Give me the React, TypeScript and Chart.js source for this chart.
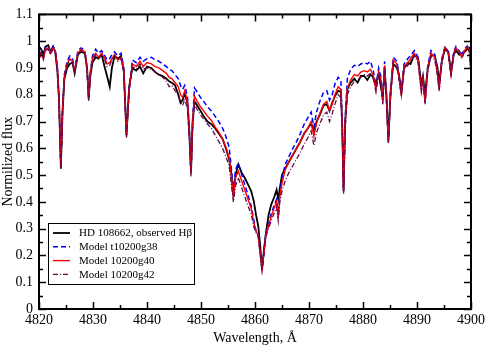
import React, { useEffect, useRef } from "react";
import { Chart, registerables } from "chart.js";

Chart.register(...registerables);

// Wavelength grid (Å)
const WAVE = [
  4820.0, 4820.4, 4820.8, 4821.2, 4821.7, 4822.1, 4822.6, 4823.0, 4823.4, 4823.7,
  4824.05, 4824.35, 4824.7, 4825.2, 4825.7, 4826.2, 4826.6, 4827.2, 4827.8, 4828.5,
  4828.9, 4829.2, 4829.5, 4829.9, 4830.5, 4831.0, 4831.6, 4832.2, 4832.6, 4833.1,
  4833.5, 4834.0, 4834.6, 4835.2, 4835.7, 4836.2, 4836.7, 4837.3, 4838.0, 4838.7,
  4839.3, 4840.0, 4840.8, 4841.5, 4842.2, 4842.9, 4843.6, 4844.1, 4844.6, 4845.2,
  4845.8, 4846.2, 4846.6, 4847.0, 4847.5, 4847.85, 4848.15, 4848.45, 4848.8, 4849.3,
  4849.9, 4850.5, 4851.2, 4851.9, 4852.6, 4853.3, 4854.0, 4854.6, 4855.2, 4855.6,
  4856.0, 4856.4, 4856.9, 4857.5, 4858.1, 4858.7, 4859.3, 4859.8, 4860.2, 4860.6,
  4860.95, 4861.3, 4861.65, 4862.0, 4862.5, 4863.0, 4863.6, 4864.0, 4864.3, 4864.6,
  4865.0, 4865.6, 4866.3, 4867.0, 4867.7, 4868.4, 4869.1, 4869.8, 4870.4, 4870.9,
  4871.4, 4872.0, 4872.7, 4873.3, 4873.8, 4874.3, 4874.8, 4875.4, 4875.9, 4876.15,
  4876.4, 4876.7, 4877.1, 4877.7, 4878.4, 4879.0, 4879.6, 4880.2, 4880.8, 4881.4,
  4881.9, 4882.4, 4882.9, 4883.3, 4883.65, 4884.0, 4884.35, 4884.7, 4885.1, 4885.6,
  4886.3, 4886.7, 4887.1, 4887.6, 4888.3, 4888.8, 4889.5, 4890.2, 4890.8, 4891.1,
  4891.5, 4892.0, 4892.6, 4893.3, 4893.8, 4894.1, 4894.6, 4895.2, 4895.8, 4896.3,
  4896.8, 4897.2, 4897.8, 4898.3, 4898.8, 4899.3, 4899.7, 4900.0,
];

// HD 108662, observed Hβ
const OBSERVED = [
  0.98, 0.97, 0.95, 0.98, 0.985, 0.96, 0.98, 0.96, 0.89, 0.79,
  0.525, 0.73, 0.86, 0.90, 0.915, 0.92, 0.88, 0.95, 0.96, 0.955,
  0.90, 0.79, 0.87, 0.92, 0.94, 0.935, 0.95, 0.90, 0.87, 0.83,
  0.90, 0.945, 0.935, 0.945, 0.89, 0.65, 0.83, 0.90, 0.89, 0.905,
  0.88, 0.905, 0.90, 0.885, 0.875, 0.87, 0.86, 0.85, 0.845, 0.835,
  0.80, 0.77, 0.78, 0.805, 0.77, 0.66, 0.51, 0.70, 0.775, 0.76,
  0.74, 0.72, 0.70, 0.69, 0.675, 0.655, 0.635, 0.60, 0.56, 0.51,
  0.42, 0.50, 0.54, 0.51, 0.49, 0.465, 0.44, 0.40, 0.35, 0.31,
  0.24, 0.145, 0.22, 0.28, 0.35, 0.39, 0.42, 0.445, 0.41, 0.45,
  0.50, 0.525, 0.55, 0.575, 0.60, 0.625, 0.655, 0.675, 0.695, 0.66,
  0.70, 0.725, 0.76, 0.765, 0.74, 0.77, 0.795, 0.815, 0.81, 0.69,
  0.44, 0.70, 0.82, 0.845, 0.86, 0.845, 0.87, 0.87, 0.855, 0.875,
  0.865, 0.84, 0.88, 0.83, 0.79, 0.89, 0.80, 0.63, 0.81, 0.915,
  0.90, 0.87, 0.81, 0.90, 0.92, 0.915, 0.95, 0.935, 0.84, 0.87,
  0.80, 0.90, 0.95, 0.945, 0.90, 0.84, 0.925, 0.975, 0.96, 0.885,
  0.95, 0.965, 0.95, 0.955, 0.96, 0.97, 0.975, 0.96,
];

// Model t10200g38
const MODEL_G38 = [
  0.945, 0.96, 0.94, 0.975, 0.98, 0.96, 0.98, 0.97, 0.905, 0.78,
  0.53, 0.75, 0.875, 0.925, 0.945, 0.935, 0.895, 0.965, 0.975, 0.965,
  0.90, 0.785, 0.885, 0.945, 0.97, 0.955, 0.965, 0.945, 0.93, 0.935,
  0.95, 0.96, 0.945, 0.955, 0.90, 0.65, 0.83, 0.93, 0.92, 0.94,
  0.925, 0.935, 0.94, 0.93, 0.925, 0.915, 0.905, 0.895, 0.89, 0.875,
  0.86, 0.835, 0.82, 0.835, 0.79, 0.66, 0.51, 0.71, 0.825, 0.81,
  0.79, 0.775, 0.755, 0.74, 0.72, 0.70, 0.675, 0.645, 0.605, 0.53,
  0.44, 0.52, 0.545, 0.505, 0.465, 0.425, 0.385, 0.33, 0.29, 0.28,
  0.21, 0.148, 0.21, 0.28, 0.32, 0.355, 0.39, 0.41, 0.35, 0.43,
  0.49, 0.54, 0.57, 0.60, 0.625, 0.655, 0.69, 0.715, 0.735, 0.68,
  0.735, 0.775, 0.81, 0.815, 0.78, 0.80, 0.84, 0.865, 0.855, 0.70,
  0.445, 0.71, 0.86, 0.895, 0.91, 0.905, 0.915, 0.92, 0.915, 0.925,
  0.89, 0.83, 0.90, 0.87, 0.78, 0.925, 0.78, 0.625, 0.81, 0.94,
  0.925, 0.87, 0.805, 0.915, 0.935, 0.945, 0.965, 0.94, 0.825, 0.87,
  0.775, 0.91, 0.965, 0.95, 0.885, 0.825, 0.935, 0.98, 0.96, 0.88,
  0.96, 0.98, 0.965, 0.945, 0.97, 0.982, 0.97, 0.885,
];

// Model 10200g40
const MODEL_G40 = [
  0.94, 0.955, 0.935, 0.97, 0.975, 0.955, 0.975, 0.965, 0.90, 0.78,
  0.53, 0.74, 0.87, 0.915, 0.935, 0.925, 0.89, 0.955, 0.97, 0.96,
  0.90, 0.78, 0.88, 0.935, 0.955, 0.94, 0.955, 0.935, 0.915, 0.92,
  0.935, 0.95, 0.93, 0.94, 0.89, 0.645, 0.82, 0.915, 0.905, 0.925,
  0.905, 0.92, 0.915, 0.905, 0.90, 0.89, 0.88, 0.865, 0.86, 0.845,
  0.83, 0.80, 0.79, 0.815, 0.77, 0.65, 0.505, 0.70, 0.795, 0.775,
  0.755, 0.74, 0.72, 0.705, 0.68, 0.66, 0.635, 0.605, 0.565, 0.50,
  0.42, 0.49, 0.515, 0.48, 0.445, 0.41, 0.375, 0.32, 0.29, 0.275,
  0.21, 0.148, 0.21, 0.275, 0.31, 0.345, 0.38, 0.40, 0.34, 0.42,
  0.47, 0.52, 0.55, 0.575, 0.60, 0.625, 0.655, 0.675, 0.70, 0.645,
  0.695, 0.73, 0.765, 0.775, 0.74, 0.765, 0.80, 0.83, 0.82, 0.68,
  0.44, 0.69, 0.825, 0.855, 0.875, 0.87, 0.885, 0.89, 0.885, 0.895,
  0.87, 0.82, 0.885, 0.86, 0.775, 0.91, 0.78, 0.625, 0.80, 0.93,
  0.915, 0.86, 0.80, 0.905, 0.92, 0.935, 0.955, 0.93, 0.82, 0.86,
  0.77, 0.90, 0.955, 0.94, 0.88, 0.82, 0.93, 0.975, 0.955, 0.875,
  0.955, 0.975, 0.96, 0.94, 0.965, 0.978, 0.965, 0.88,
];

// Model 10200g42
const MODEL_G42 = [
  0.935, 0.95, 0.93, 0.965, 0.97, 0.95, 0.97, 0.96, 0.895, 0.77,
  0.52, 0.73, 0.865, 0.91, 0.93, 0.92, 0.885, 0.95, 0.965, 0.955,
  0.89, 0.775, 0.875, 0.93, 0.95, 0.935, 0.95, 0.93, 0.905, 0.91,
  0.93, 0.945, 0.925, 0.935, 0.885, 0.64, 0.815, 0.905, 0.895, 0.915,
  0.895, 0.90, 0.895, 0.885, 0.875, 0.865, 0.85, 0.83, 0.835, 0.815,
  0.80, 0.77, 0.76, 0.785, 0.745, 0.63, 0.495, 0.68, 0.765, 0.745,
  0.725, 0.71, 0.69, 0.675, 0.65, 0.625, 0.60, 0.57, 0.535, 0.47,
  0.40, 0.46, 0.49, 0.455, 0.42, 0.385, 0.355, 0.305, 0.285, 0.27,
  0.205, 0.145, 0.205, 0.27, 0.30, 0.33, 0.36, 0.38, 0.33, 0.40,
  0.44, 0.48, 0.51, 0.535, 0.56, 0.585, 0.615, 0.64, 0.665, 0.61,
  0.66, 0.69, 0.725, 0.735, 0.70, 0.73, 0.765, 0.80, 0.79, 0.66,
  0.43, 0.67, 0.80, 0.83, 0.85, 0.855, 0.865, 0.875, 0.87, 0.88,
  0.86, 0.81, 0.875, 0.85, 0.765, 0.90, 0.77, 0.62, 0.79, 0.92,
  0.91, 0.85, 0.795, 0.895, 0.91, 0.925, 0.945, 0.92, 0.81, 0.85,
  0.765, 0.89, 0.945, 0.93, 0.87, 0.815, 0.92, 0.97, 0.95, 0.87,
  0.95, 0.97, 0.955, 0.935, 0.96, 0.975, 0.96, 0.875,
];

const SERIES_LABELS = [
  "HD 108662, observed H\u03b2",
  "Model t10200g38",
  "Model 10200g40",
  "Model 10200g42",
];
const X_TICKS = [4820, 4830, 4840, 4850, 4860, 4870, 4880, 4890, 4900];
const Y_TICK_LABELS = ["0", "0.1", "0.2", "0.3", "0.4", "0.5", "0.6", "0.7", "0.8", "0.9", "1", "1.1"];

const FONT = "'Liberation Serif', 'Times New Roman', serif";
const COLORS = ["#000000", "#0000ff", "#ff0000", "#670748"];
const DASHES = [[], [5, 3], [], [5, 2, 1, 2]];
const WIDTHS = [1.8, 1.5, 1.4, 1.3];

const framePlugin = {
  id: "frameTicks",
  afterDatasetsDraw(chart: any) {
    const ctx = chart.ctx;
    const { left, right, top, bottom } = chart.chartArea;
    const xs = chart.scales.x;
    const ys = chart.scales.y;
    ctx.save();
    ctx.strokeStyle = "#000";
    ctx.lineWidth = 1.5;
    ctx.setLineDash([]);
    ctx.beginPath();
    // x ticks (major 10, minor 5)
    for (let v = 4820; v <= 4900; v += 5) {
      const px = Math.round(xs.getPixelForValue(v)) + 0.5;
      const len = v % 10 === 0 ? 7 : 4;
      ctx.moveTo(px, bottom);
      ctx.lineTo(px, bottom - len);
      ctx.moveTo(px, top);
      ctx.lineTo(px, top + len);
    }
    for (let i = 0; i <= 22; i++) {
      const v = i * 0.05;
      const py = Math.round(ys.getPixelForValue(v)) + 0.5;
      const len = i % 2 === 0 ? 7 : 4;
      ctx.moveTo(left, py);
      ctx.lineTo(left + len, py);
      ctx.moveTo(right, py);
      ctx.lineTo(right - len, py);
    }
    ctx.stroke();
    ctx.lineWidth = 2;
    ctx.strokeRect(left, top, right - left, bottom - top);
    ctx.restore();
  },
};

const legendPlugin = {
  id: "boxLegend",
  afterDraw(chart: any) {
    const ctx = chart.ctx;
    const { left, bottom } = chart.chartArea;
    const bx = left + 9;
    const by = bottom - 86;
    const bw = 146;
    const bh = 61;
    ctx.save();
    ctx.fillStyle = "#fff";
    ctx.fillRect(bx, by, bw, bh);
    ctx.strokeStyle = "#000";
    ctx.lineWidth = 1;
    ctx.setLineDash([]);
    ctx.strokeRect(bx + 0.5, by + 0.5, bw, bh);
    ctx.font = `11px ${FONT}`;
    ctx.textBaseline = "middle";
    ctx.fillStyle = "#000";
    SERIES_LABELS.forEach((label, i) => {
      const y = by + 10 + i * 13.8;
      ctx.strokeStyle = COLORS[i];
      ctx.lineWidth = WIDTHS[i];
      ctx.setLineDash(DASHES[i]);
      ctx.beginPath();
      ctx.moveTo(bx + 5, y);
      ctx.lineTo(bx + 22, y);
      ctx.stroke();
      ctx.setLineDash([]);
      ctx.fillText(label, bx + 31, y + 0.5);
    });
    ctx.restore();
  },
};

export default function App() {
  const canvasRef = useRef<HTMLCanvasElement | null>(null);

  useEffect(() => {
    if (!canvasRef.current) return;
    const seriesValues = [OBSERVED, MODEL_G38, MODEL_G40, MODEL_G42];
    const orders = [3, 2, 1, 0];
    const chart = new Chart(canvasRef.current, {
      type: "line",
      data: {
        datasets: seriesValues.map((vals, i) => ({
          label: SERIES_LABELS[i],
          data: WAVE.map((x, k) => ({ x, y: vals[k] })),
          borderColor: COLORS[i],
          backgroundColor: COLORS[i],
          borderWidth: WIDTHS[i],
          borderDash: DASHES[i],
          pointRadius: 0,
          tension: 0,
          fill: false,
          order: orders[i],
        })),
      },
      options: {
        animation: false,
        responsive: false,
        maintainAspectRatio: false,
        layout: { padding: { left: 0, top: 6, right: 16, bottom: 0 } },
        plugins: { legend: { display: false }, tooltip: { enabled: false } },
        scales: {
          x: {
            type: "linear",
            min: 4820,
            max: 4900,
            afterFit: (s: any) => {
              s.height = 38;
            },
            afterBuildTicks: (s: any) => {
              s.ticks = X_TICKS.map((v) => ({ value: v }));
            },
            grid: { display: false, drawTicks: false },
            border: { display: false },
            ticks: {
              color: "#000",
              font: { family: FONT, size: 14 },
              padding: 3,
              maxRotation: 0,
              autoSkip: false,
              callback: (v: any) => String(v),
            },
            title: {
              display: true,
              text: "Wavelength, \u00c5",
              color: "#000",
              font: { family: FONT, size: 14 },
              padding: 0,
            },
          },
          y: {
            type: "linear",
            min: 0,
            max: 1.1,
            afterFit: (s: any) => {
              s.width = 39;
            },
            afterBuildTicks: (s: any) => {
              s.ticks = Y_TICK_LABELS.map((_, i) => ({ value: i / 10 }));
            },
            grid: { display: false, drawTicks: false },
            border: { display: false },
            ticks: {
              color: "#000",
              font: { family: FONT, size: 14 },
              padding: 6,
              autoSkip: false,
              callback: (_v: any, i: number) => Y_TICK_LABELS[i],
            },
            title: {
              display: true,
              text: "Normilized flux",
              color: "#000",
              font: { family: FONT, size: 14 },
              padding: 0,
            },
          },
        },
      },
      plugins: [framePlugin, legendPlugin],
    });
    return () => chart.destroy();
  }, []);

  return (
    <div style={{ position: "fixed", left: 0, top: 0, width: 488, height: 347, background: "#fff" }}>
      <canvas ref={canvasRef} width={488} height={347} style={{ width: 488, height: 347 }} />
    </div>
  );
}
